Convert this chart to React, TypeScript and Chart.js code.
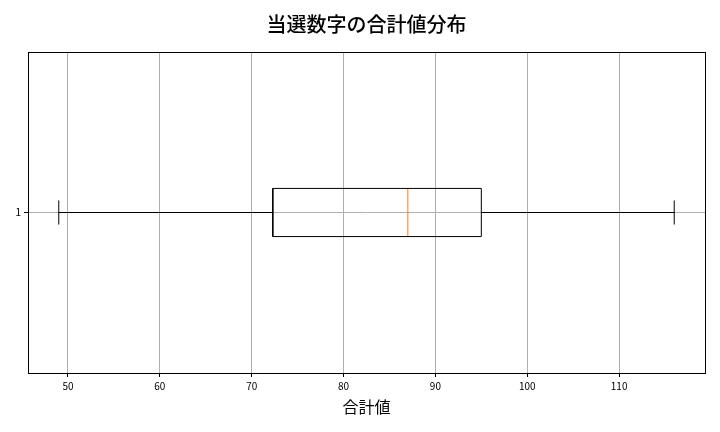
import { useEffect, useRef } from 'react';
import { Chart, registerables, type ChartConfiguration, type Plugin } from 'chart.js';

Chart.register(...registerables);

// five-number summary
const CATEGORY = 1;
const WHISKER_LOW = 49;
const Q1 = 72.3;
const MEDIAN = 87;
const Q3 = 95;
const WHISKER_HIGH = 116;
const X_TICKS = [50, 60, 70, 80, 90, 100, 110];
const X_MIN = 45.65;
const X_MAX = 119.35;
const TITLE = '当選数字の合計値分布';

const BOX_HALF = 0.075; // half of matplotlib's 0.15 box width
const CAP_HALF = 0.0375;
const FONT = '"Noto Sans CJK JP", "Noto Sans", sans-serif';

const line = (pts: { x: number; y: number }[], color = '#000') => ({
  data: pts,
  showLine: true,
  borderColor: color,
  borderWidth: 1,
  pointRadius: 0,
  pointHoverRadius: 0,
});

// full frame round the plot area like matplotlib's spines, plus a title
// centred over the axes (Chart.js centres its own title on the canvas)
const framePlugin: Plugin<'scatter'> = {
  id: 'frame',
  afterDatasetsDraw(chart) {
    const { ctx, chartArea: a } = chart;
    ctx.save();
    ctx.strokeStyle = '#000';
    ctx.lineWidth = 1;
    ctx.strokeRect(a.left + 0.5, a.top + 0.5, a.right - a.left, a.bottom - a.top);
    ctx.fillStyle = '#000';
    ctx.font = `500 20px ${FONT}`;
    ctx.textAlign = 'center';
    ctx.textBaseline = 'middle';
    ctx.fillText(TITLE, (a.left + a.right) / 2, 24);
    ctx.restore();
  },
};

export default function App() {
  const canvasRef = useRef<HTMLCanvasElement>(null);

  useEffect(() => {
    if (!canvasRef.current) return;
    const y = CATEGORY;

    const config: ChartConfiguration<'scatter'> = {
      type: 'scatter',
      data: {
        datasets: [
          line([
            { x: Q1, y: y - BOX_HALF },
            { x: Q3, y: y - BOX_HALF },
            { x: Q3, y: y + BOX_HALF },
            { x: Q1, y: y + BOX_HALF },
            { x: Q1, y: y - BOX_HALF },
          ]),
          line([{ x: MEDIAN, y: y - BOX_HALF }, { x: MEDIAN, y: y + BOX_HALF }], '#ff7f0e'),
          line([{ x: WHISKER_LOW, y }, { x: Q1, y }]),
          line([{ x: Q3, y }, { x: WHISKER_HIGH, y }]),
          line([{ x: WHISKER_LOW, y: y - CAP_HALF }, { x: WHISKER_LOW, y: y + CAP_HALF }]),
          line([{ x: WHISKER_HIGH, y: y - CAP_HALF }, { x: WHISKER_HIGH, y: y + CAP_HALF }]),
        ],
      },
      options: {
        animation: false,
        responsive: false,
        layout: { padding: { left: 0, right: 15, top: 52, bottom: 0 } },
        plugins: {
          legend: { display: false },
          tooltip: { enabled: false },
          title: { display: false },
        },
        scales: {
          x: {
            type: 'linear',
            min: X_MIN,
            max: X_MAX,
            afterBuildTicks: (s) => { s.ticks = X_TICKS.map((v) => ({ value: v })); },
            afterFit: (s) => { s.height = 59; },
            grid: { color: '#b0b0b0', lineWidth: 1, tickLength: 4, tickColor: '#000' },
            border: { display: false },
            ticks: { color: '#000', padding: 3, font: { family: FONT, size: 10 } },
            title: {
              display: true,
              text: '合計値',
              color: '#000',
              font: { family: FONT, size: 16, lineHeight: 1.2 },
              padding: { top: 0, bottom: 15 },
            },
          },
          y: {
            type: 'linear',
            min: 0.5,
            max: 1.5,
            afterBuildTicks: (s) => { s.ticks = [{ value: CATEGORY }]; },
            afterFit: (s) => { s.width = 28; },
            grid: { color: '#b0b0b0', lineWidth: 1, tickLength: 4, tickColor: '#000' },
            border: { display: false },
            ticks: { color: '#000', padding: 3, font: { family: FONT, size: 10 } },
          },
        },
      },
      plugins: [framePlugin],
    };

    const chart = new Chart(canvasRef.current, config);
    return () => chart.destroy();
  }, []);

  return (
    <div style={{ position: 'fixed', left: 0, top: 0, width: 720, height: 432, background: '#fff' }}>
      <canvas ref={canvasRef} width={720} height={432} />
    </div>
  );
}
